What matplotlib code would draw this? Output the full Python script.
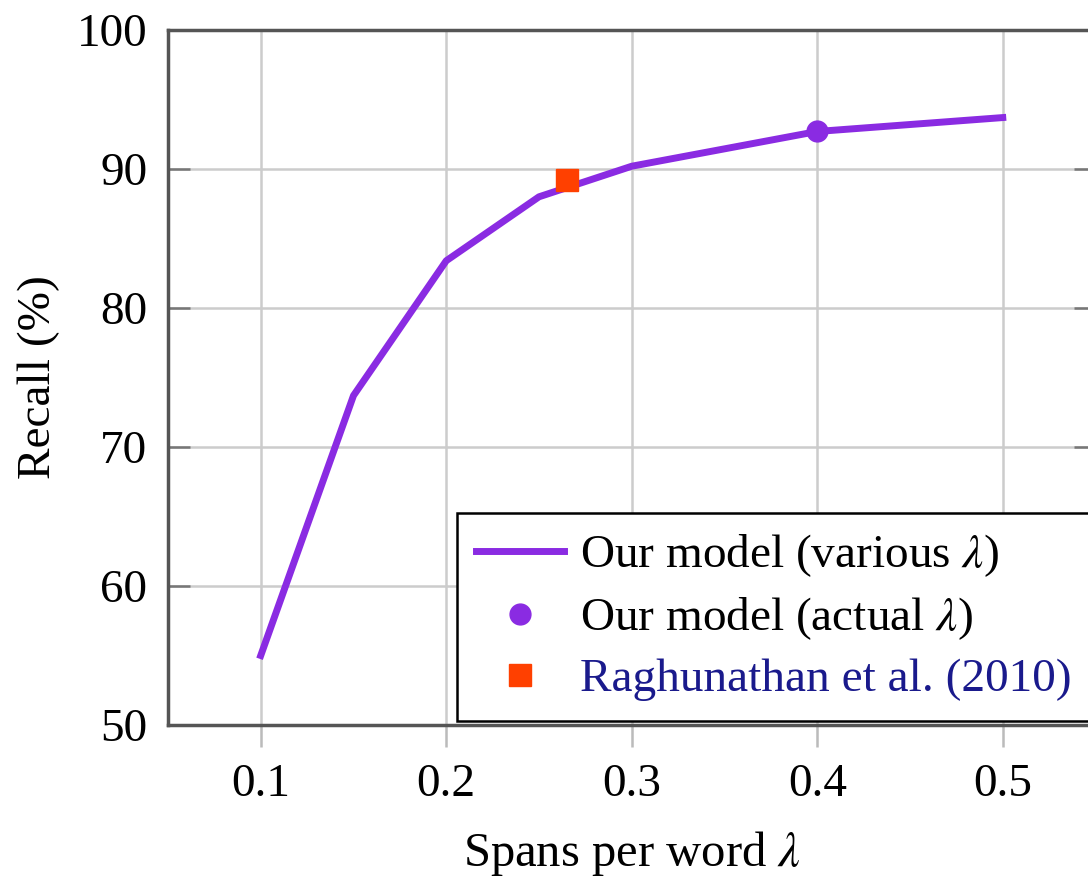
import numpy as np
import matplotlib.pyplot as plt

plt.rcParams['font.family'] = ['Liberation Serif', 'DejaVu Serif']
plt.rcParams['mathtext.fontset'] = 'stix'

# recall curve over span budgets
lam = [0.10, 0.15, 0.20, 0.25, 0.30, 0.40, 0.50]
recall = [55.0, 73.7, 83.4, 88.0, 90.2, 92.7, 93.7]

# operating points
actual_lam, actual_recall = 0.40, 92.7
ragh_lam, ragh_recall = 0.265, 89.2

xticks = [0.1, 0.2, 0.3, 0.4, 0.5]
yticks = [50, 60, 70, 80, 90, 100]

purple = '#8a2be2'
orange = '#ff4000'

fig = plt.figure(figsize=(10.88, 8.82), dpi=100)
ax = fig.add_axes([168/1088, 1 - 725/882, (1095.5 - 168)/1088, 695/882])

ax.plot(lam, recall, color=purple, lw=5, solid_joinstyle='round',
        label=r'Our model (various $\lambda$)', zorder=3)
ax.plot(actual_lam, actual_recall, 'o', color=purple, ms=15,
        label=r'Our model (actual $\lambda$)', zorder=4)
ax.plot(ragh_lam, ragh_recall, 's', color=orange, ms=16,
        label='Raghunathan et al. (2010)', zorder=4)

ax.set_xlim(0.05, 0.55)
ax.set_ylim(50, 100)
ax.set_xticks(xticks)
ax.set_xticklabels([f'{v:.1f}' for v in xticks])
ax.set_yticks(yticks)

ax.grid(True, color='#cccccc', lw=1.8)
ax.set_axisbelow(True)
for s in ax.spines.values():
    s.set_color('#555555')
    s.set_linewidth(2.5)

ax.tick_params(axis='x', direction='out', length=16, width=1.8,
               color='#bbbbbb', pad=12, labelsize=34)
ax.tick_params(axis='y', direction='in', length=16, width=1.8,
               color='#777777', pad=15, labelsize=34, right=True)

ax.set_xlabel(r'Spans per word $\lambda$', fontsize=35, labelpad=16)
ax.set_ylabel('Recall (%)', fontsize=34, labelpad=12)

leg = ax.legend(loc='lower right', fontsize=34, frameon=True, fancybox=False,
                edgecolor='black', framealpha=1, borderaxespad=0.08,
                handlelength=1.85, handletextpad=0.35, labelspacing=0.34,
                borderpad=0.42, numpoints=1)
leg.get_frame().set_linewidth(1.8)
leg.get_texts()[2].set_color('#1a1a8c')

fig.savefig('out.png', dpi=100)
